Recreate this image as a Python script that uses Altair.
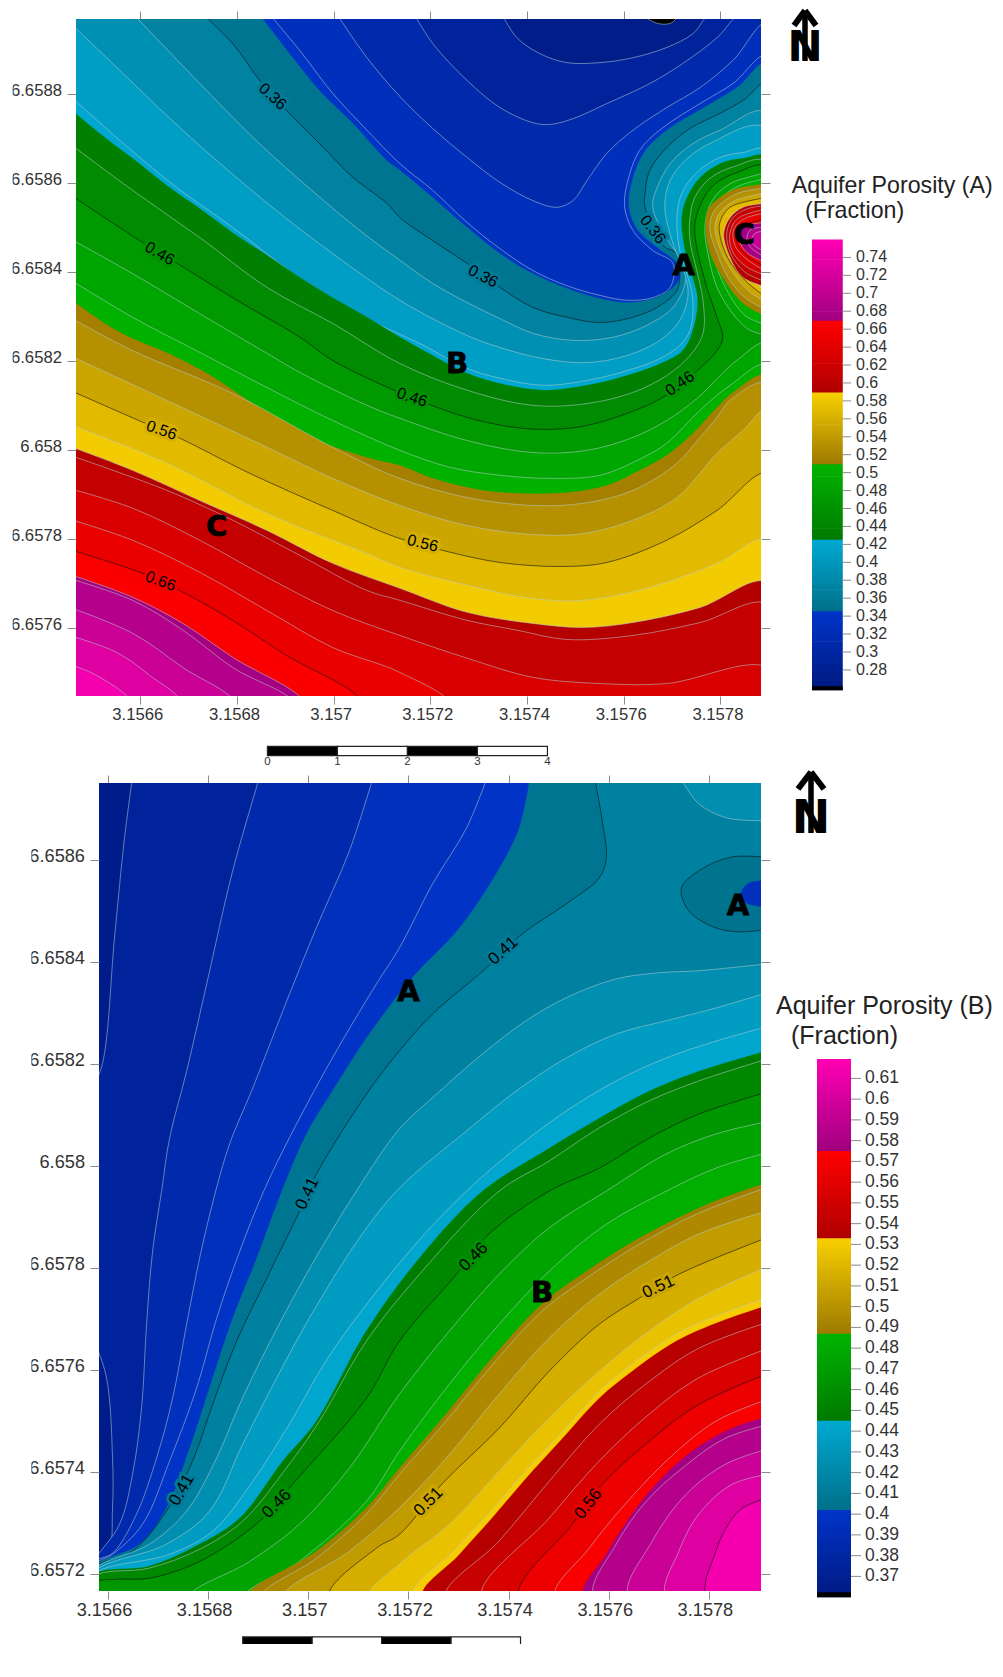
import altair as alt
import pandas as pd

# Contours, as (lon, lat) offsets in micro-degrees
# from the origin of each map.  Map A origin: 3.1566 E, 6.6576 N.
LON0, A_LAT0, B_LAT0 = 3.1566, 6.6576, 6.6572

a_026 = [(1033,1384),(1064,1361),(1096,1359),(1126,1384)]
a_028 = [(746,1384),(779,1327),(827,1291),(882,1271),(951,1271),(1019,1282),(1089,1305),(1143,1336),(1182,1384)]
a_030 = [(564,1384),(605,1314),(676,1231),(744,1170),(812,1136),(847,1132),(895,1145),(965,1179),(1054,1224),(1122,1269),(1193,1327),(1242,1384)]
a_032 = [(404,1384),(469,1282),(537,1195),(605,1123),(676,1058),(744,1002),(812,961),(862,946),(895,961),(924,1006),(965,1067),(1019,1119),(1089,1170),(1158,1215),(1226,1276),(1298,1361)]
a_034 = [(264,1384),(330,1298),(398,1202),(469,1119),(537,1044),(605,984),(676,912),(744,853),(812,804),(882,770),(951,748),(1007,737),(1060,743),(1096,766),(1102,820),(1060,849),(1019,894),(1002,946),(1007,999),(1033,1074),(1081,1125),(1158,1179),(1226,1224),(1298,1287)]
a_0345 = [(243,1384),(309,1291),(371,1208),(440,1134),(510,1051),(537,1029),(605,968),(676,901),(744,842),(812,797),(882,764),(951,741),(1007,732),(1060,741),(1102,766),(1116,788),(1110,820),(1069,856),(1027,898),(1011,946),(1015,995),(1042,1069),(1089,1119),(1166,1170),(1234,1215),(1298,1271)]
a_036 = [(125,1384),(191,1314),(247,1231),(303,1163),(371,1089),(440,1013),(510,955),(537,923),(605,871),(676,820),(744,766),(812,721),(882,699),(951,687),(1019,699),(1075,725),(1110,759),(1116,797),(1110,842),(1081,860),(1044,946),(1044,977),(1054,1029),(1089,1080),(1137,1123),(1199,1157),(1247,1186),(1298,1226)]
a_038 = [(-18,1384),(117,1231),(233,1103),(324,1013),(454,894),(537,827),(605,775),(676,732),(744,696),(812,663),(895,647),(978,654),(1048,681),(1102,721),(1127,775),(1127,811),(1089,876),(1060,946),(1069,990),(1096,1044),(1143,1089),(1199,1119),(1298,1159)]
a_040 = [(-146,1361),(-57,1269),(55,1152),(158,1051),(289,932),(398,842),(537,737),(676,658),(744,631),(833,606),(924,597),(1007,613),(1075,647),(1116,692),(1133,748),(1127,793),(1100,871),(1085,950),(1096,1006),(1127,1051),(1178,1089),(1298,1123)]
a_042 = [(-146,1197),(-42,1096),(76,990),(191,901),(316,797),(433,714),(578,640),(676,584),(744,562),(833,546),(924,557),(1007,579),(1075,606),(1116,636),(1137,669),(1143,737),(1133,788),(1116,849),(1110,923),(1120,977),(1151,1024),(1199,1058),(1247,1069),(1298,1074)]
a_0425 = [(-146,1168),(-84,1112),(-16,1056),(55,995),(123,943),(191,889),(262,838),(330,788),(398,743),(469,699),(537,654),(605,613),(676,573),(744,550),(833,535),(924,546),(1007,568),(1081,597),(1122,624),(1143,669),(1153,737),(1143,788),(1127,849),(1120,923),(1131,968),(1158,1013),(1199,1044),(1247,1056),(1298,1058)]
a_044 = [(-146,1089),(-16,984),(123,878),(262,766),(398,685),(537,595),(676,535),(812,501),(924,505),(1019,530),(1089,568),(1137,613),(1164,663),(1164,737),(1151,804),(1137,871),(1137,923),(1147,968),(1178,1011),(1230,1038),(1298,1047)]
a_046 = [(-146,975),(-1,871),(76,820),(191,743),(330,654),(398,602),(502,546),(593,505),(676,474),(758,454),(833,447),(916,454),(1007,483),(1081,519),(1152,579),(1193,624),(1205,654),(1193,699),(1172,766),(1151,856),(1147,905),(1158,950),(1185,995),(1234,1024),(1298,1035)]
a_048 = [(-146,876),(-16,797),(123,707),(262,618),(330,575),(469,501),(537,472),(676,422),(812,395),(924,400),(1019,429),(1089,467),(1152,517),(1234,602),(1298,640)]
a_048b = [(1298,658),(1255,674),(1199,752),(1175,838),(1168,905),(1183,961),(1220,999),(1298,1024)]
a_050 = [(-146,784),(-16,699),(123,620),(262,541),(398,467),(537,400),(640,362),(744,344),(847,337),(951,344),(1040,384),(1089,416),(1158,490),(1220,546),(1298,591)]
a_050b = [(1298,681),(1251,703),(1203,782),(1182,860),(1182,916),(1203,968),(1240,995),(1298,1011)]
a_051 = [(-146,741),(-49,669),(71,611),(138,573),(233,505),(330,438),(469,384),(537,366),(605,337),(708,310),(799,303),(882,305),(965,321),(1033,355),(1089,389),(1143,438),(1193,496),(1226,530),(1298,568)]
a_051b = [(1298,699),(1247,730),(1213,775),(1182,833),(1170,894),(1174,939),(1199,968),(1234,988),(1298,999)]
a_052 = [(-146,699),(-16,624),(191,528),(398,407),(537,337),(676,294),(812,276),(916,281),(1019,310),(1110,371),(1158,429),(1193,474),(1220,512),(1298,550)]
a_052b = [(1298,714),(1251,743),(1216,788),(1191,849),(1178,898),(1185,934),(1209,961),(1240,979),(1298,990)]
a_054 = [(-146,613),(55,512),(262,407),(398,337),(537,276),(676,231),(812,211),(916,213),(1019,243),(1110,294),(1193,393),(1247,445),(1298,494)]
a_054b = [(1298,730),(1257,759),(1220,809),(1195,865),(1189,905),(1199,934),(1230,961),(1298,979)]
a_056 = [(-146,535),(5,463),(82,427),(227,348),(398,265),(531,204),(626,175),(744,148),(868,139),(965,148),(1089,198),(1193,265),(1298,348)]
a_056b = [(1298,741),(1251,782),(1216,831),(1199,883),(1199,912),(1220,946),(1298,968)]
a_058 = [(-146,458),(55,371),(262,258),(469,168),(537,137),(676,97),(812,67),(916,63),(1054,92),(1193,146),(1298,198)]
a_058b = [(1298,752),(1257,793),(1226,849),(1213,894),(1226,932),(1298,957)]
a_059 = [(-146,409),(-16,355),(123,287),(262,220),(398,146),(537,90),(676,36),(812,11),(916,2),(1019,13),(1158,47),(1298,103)]
a_059b = [(1298,766),(1247,788),(1220,833),(1207,887),(1220,923),(1247,946),(1298,955)]
a_060 = [(-146,389),(55,310),(191,243),(330,164),(469,85),(537,63),(676,18),(779,-4),(882,-25),(1019,-16),(1158,13),(1298,54)]
a_060b = [(1298,777),(1251,800),(1222,840),(1213,887),(1226,923),(1257,943),(1298,950)]
a_062 = [(-146,314),(-16,270),(123,198),(262,115),(398,40),(537,-16),(676,-67),(812,-110),(951,-124),(1089,-124),(1298,-88)]
a_062b = [(1298,791),(1253,813),(1224,849),(1220,889),(1236,921),(1298,943)]
a_064 = [(-146,245),(-16,198),(123,126),(262,40),(398,-43),(537,-99),(634,-166)]
a_064b = [(1298,800),(1257,827),(1230,860),(1228,898),(1251,921),(1298,934)]
a_066 = [(-146,177),(-1,126),(82,85),(191,18),(295,-56),(454,-166)]
a_066b = [(1298,809),(1257,836),(1234,867),(1238,898),(1298,921)]
a_067 = [(-146,121),(-16,70),(88,11),(191,-65),(334,-166)]
a_067b = [(1298,820),(1255,844),(1240,871),(1247,901),(1298,912)]
a_068 = [(-146,112),(-16,63),(88,-4),(191,-88),(313,-166)]
a_068b = [(1298,831),(1265,853),(1255,871),(1261,894),(1298,903)]
a_070 = [(-146,47),(-16,-11),(88,-88),(191,-166)]
a_070b = [(1298,842),(1271,860),(1265,871),(1271,887),(1298,894)]
a_072 = [(-146,-16),(-49,-54),(20,-106),(82,-166)]
a_074 = [(-146,-81),(-90,-106),(-22,-166)]

A_LEVELS = [0.26,0.28,0.30,0.32,0.34,0.345,0.36,0.38,0.40,0.42,0.425,0.44,0.46,0.48,0.50,0.51,0.52,0.54,0.56,0.58,0.59,0.60,0.62,0.64,0.66,0.67,0.68,0.70,0.72,0.74,0.76]
A_FAMILY_EDGES = [0.26,0.345,0.425,0.51,0.59,0.67,0.76]
A_MAJOR = [0.36,0.46,0.56,0.66]
A_CURVES = [
 (0.26,a_026,"top"),(0.28,a_028,"top"),(0.30,a_030,"top"),(0.32,a_032,"right"),(0.34,a_034,"right"),(0.345,a_0345,"right"),
 (0.36,a_036,"right"),(0.38,a_038,"right"),(0.40,a_040,"right"),(0.42,a_042,"right"),(0.425,a_0425,"right"),(0.44,a_044,"right"),
 (0.46,a_046,"right"),(0.48,a_048,"right"),(0.48,a_048b,"bump"),(0.50,a_050,"right"),(0.50,a_050b,"bump"),(0.51,a_051,"right"),(0.51,a_051b,"bump"),
 (0.52,a_052,"right"),(0.52,a_052b,"bump"),(0.54,a_054,"right"),(0.54,a_054b,"bump"),(0.56,a_056,"right"),(0.56,a_056b,"bump"),
 (0.58,a_058,"right"),(0.58,a_058b,"bump"),(0.59,a_059,"right"),(0.59,a_059b,"bump"),(0.60,a_060,"right"),(0.60,a_060b,"bump"),
 (0.62,a_062,"right"),(0.62,a_062b,"bump"),(0.64,a_064,"bottom"),(0.64,a_064b,"bump"),(0.66,a_066,"bottom"),(0.66,a_066b,"bump"),
 (0.67,a_067,"bottom"),(0.67,a_067b,"bump"),(0.68,a_068,"bottom"),(0.68,a_068b,"bump"),(0.70,a_070,"bottom"),(0.70,a_070b,"bump"),
 (0.72,a_072,"bottom"),(0.74,a_074,"bottom"),
]

# Map B origin: 3.1566 E, 6.6572 N.
b_037 = [(49,1564),(33,1444),(13,1248),(-11,1001),(-37,934),(-66,732),(-37,491),(-3,385),(9,228),(9,130),(-1,32),(-33,14)]
b_038 = [(303,1564),(249,1379),(197,1157),(157,986),(123,855),(107,751),(89,633),(77,490),(67,326),(49,196),(23,98),(-33,18)]
b_039 = [(530,1564),(482,1418),(416,1267),(357,1124),(289,953),(243,844),(215,751),(183,620),(157,490),(129,345),(97,228),(57,118),(9,41),(-33,22)]
b_040 = [(758,1564),(716,1463),(648,1353),(582,1228),(536,1157),(448,1012),(362,855),(311,751),(263,633),(217,502),(177,365),(123,222),(69,98),(9,39),(-33,16)]
b_0402 = [(843,1564),(821,1463),(775,1373),(702,1267),(602,1163),(516,1051),(448,947),(396,863),(347,751),(297,620),(249,502),(209,385),(163,247),(117,130),(63,59),(-33,12)]
b_041 = [(971,1564),(987,1477),(995,1404),(981,1365),(915,1314),(827,1255),(755,1188),(648,1098),(582,1026),(516,941),(416,784),(376,698),(317,580),(257,457),(209,333),(169,222),(117,124),(49,45),(-33,10)]
b_041p = [(1330,1404),(1246,1406),(1180,1379),(1145,1345),(1160,1300),(1214,1267),(1266,1259),(1330,1267)]
b_040p = [(1330,1361),(1280,1355),(1264,1335),(1274,1316),(1330,1306)]
b_042 = [(1330,1198),(1180,1183),(1101,1179),(1015,1167),(915,1130),(835,1085),(748,1020),(648,934),(582,873),(496,751),(396,588),(317,443),(263,333),(217,228),(157,124),(83,59),(-33,6)]
b_042c = [(1131,1564),(1147,1552),(1180,1510),(1234,1483),(1304,1477),(1330,1477)]
b_043 = [(1330,1144),(1214,1110),(1115,1085),(1015,1059),(915,1012),(815,947),(716,869),(582,757),(502,659),(402,502),(337,385),(269,255),(203,124),(117,59),(-33,2)]
b_044 = [(1330,1077),(1214,1045),(1115,1012),(1015,967),(915,908),(815,835),(716,751),(602,633),(448,437),(362,294),(289,182),(209,84),(123,39),(-33,-2)]
b_0445 = [(1330,1030),(1180,986),(1081,947),(981,894),(881,835),(748,751),(622,620),(516,477),(416,300),(349,222),(263,110),(183,59),(83,16),(-33,-2)]
b_045 = [(1330,1014),(1180,967),(1081,928),(981,875),(881,810),(781,751),(622,588),(516,457),(422,300),(356,208),(269,104),(183,49),(83,12),(-33,-6)]
b_046 = [(1330,949),(1180,902),(1081,855),(981,796),(881,751),(761,667),(696,588),(582,457),(516,345),(368,176),(303,104),(183,25),(83,-8),(17,-10),(-33,-18)]
b_047 = [(1330,890),(1214,863),(1115,824),(995,751),(881,679),(781,588),(682,477),(582,353),(482,208),(382,98),(283,25),(163,-45)]
b_048 = [(1330,830),(1214,796),(1115,751),(995,686),(881,594),(781,490),(682,373),(582,241),(516,143),(382,25),(273,-45)]
b_0487 = [(1330,771),(1266,751),(1180,718),(1061,659),(955,594),(867,530),(767,424),(668,306),(582,208),(516,130),(416,45),(279,-45)]
b_049 = [(1330,763),(1180,708),(1061,647),(955,580),(867,516),(767,410),(668,292),(582,196),(516,118),(416,31),(307,-45)]
b_050 = [(1330,716),(1180,667),(1081,614),(981,549),(881,463),(781,353),(682,235),(582,130),(482,45),(352,-45)]
b_051 = [(1330,665),(1140,588),(1061,541),(981,490),(881,398),(781,286),(668,178),(582,78),(536,51),(442,-45)]
b_052 = [(1330,608),(1180,541),(1081,477),(981,398),(881,306),(781,202),(682,98),(582,20),(522,-45)]
b_053 = [(1330,547),(1214,506),(1135,471),(1047,412),(981,359),(901,272),(835,204),(767,126),(696,51),(608,-45)]
b_0533 = [(1330,531),(1214,492),(1135,457),(1047,398),(981,345),(901,259),(835,188),(767,110),(702,39),(628,-45)]
b_054 = [(1330,498),(1180,443),(1081,378),(981,294),(881,182),(781,65),(675,-45)]
b_055 = [(1330,447),(1180,385),(1081,314),(981,222),(881,110),(747,-45)]
b_056 = [(1330,398),(1180,333),(1081,261),(987,176),(927,98),(821,-45)]
b_057 = [(1330,347),(1214,300),(1115,222),(1021,124),(961,51),(893,-45)]
b_0575 = [(1330,312),(1246,286),(1166,241),(1087,169),(1027,90),(995,39),(949,-45)]
b_058 = [(1330,296),(1234,267),(1147,208),(1075,143),(1015,59),(971,-45)]
b_059 = [(1330,249),(1234,216),(1155,157),(1087,65),(1040,-45)]
b_060 = [(1330,198),(1246,176),(1180,118),(1140,45),(1115,-45)]
b_061 = [(1330,153),(1266,129),(1234,90),(1214,45),(1196,-45)]

B_LEVELS = [0.37,0.38,0.39,0.40,0.402,0.41,0.42,0.43,0.44,0.445,0.45,0.46,0.47,0.48,0.487,0.49,0.50,0.51,0.52,0.53,0.533,0.54,0.55,0.56,0.57,0.575,0.58,0.59,0.60,0.61,0.62]
B_FAMILY_EDGES = [0.36,0.402,0.445,0.487,0.533,0.575,0.62]
B_MAJOR = [0.41,0.46,0.51,0.56,0.61]
B_CURVES = [
 (0.37,b_037,"left"),(0.38,b_038,"left"),(0.39,b_039,"left"),(0.40,b_040,"left"),(0.402,b_0402,"left"),(0.41,b_041,"left"),
 (0.405,b_041p,"bump"),(0.395,b_040p,"bump"),
 (0.42,b_042,"left"),(0.42,b_042c,"corner"),(0.43,b_043,"left"),(0.44,b_044,"left"),(0.445,b_0445,"left"),(0.45,b_045,"left"),(0.46,b_046,"left"),
 (0.47,b_047,"bottom"),(0.48,b_048,"bottom"),(0.487,b_0487,"bottom"),(0.49,b_049,"bottom"),(0.50,b_050,"bottom"),(0.51,b_051,"bottom"),
 (0.52,b_052,"bottom"),(0.53,b_053,"bottom"),(0.533,b_0533,"bottom"),(0.54,b_054,"bottom"),(0.55,b_055,"bottom"),(0.56,b_056,"bottom"),
 (0.57,b_057,"bottom"),(0.575,b_0575,"bottom"),(0.58,b_058,"bottom"),(0.59,b_059,"bottom"),(0.60,b_060,"bottom"),(0.61,b_061,"bottom"),
]

# Contour annotations: text, lon offset, lat offset, angle
a_labels = [("0.36",274,1195,42),("0.46",40,842,30),("0.36",1060,896,52),("0.36",709,791,28),("0.46",562,519,18),
            ("0.46",1116,550,325),("0.56",44,445,19),("0.56",584,191,14),("0.66",42,106,20)]
b_labels = [("0.41",789,1222,318),("0.41",398,746,295),("0.41",147,165,300),("0.46",337,138,315),("0.46",730,622,315),
            ("0.51",1099,563,335),("0.51",640,142,315),("0.56",959,138,308)]
a_letters = [("A",1124,815),("C",1249,883),("B",655,595),("C",158,227)]
b_letters = [("A",600,1142),("A",1258,1309),("B",867,552)]

x_ticks = [3.1566,3.1568,3.157,3.1572,3.1574,3.1576,3.1578]
a_y_ticks = [6.6576,6.6578,6.658,6.6582,6.6584,6.6586,6.6588]
b_y_ticks = [6.6572,6.6574,6.6576,6.6578,6.658,6.6582,6.6584,6.6586]
legend_a = [0.74,0.72,0.70,0.68,0.66,0.64,0.62,0.60,0.58,0.56,0.54,0.52,0.50,0.48,0.46,0.44,0.42,0.40,0.38,0.36,0.34,0.32,0.30,0.28]
legend_b = [0.61,0.60,0.59,0.58,0.57,0.56,0.55,0.54,0.53,0.52,0.51,0.50,0.49,0.48,0.47,0.46,0.45,0.44,0.43,0.42,0.41,0.40,0.39,0.38,0.37]
bar_ticks = [0,1,2,3,4]

RAMPS = [("#001a82","#0034c8"),("#00708a","#00a9d2"),("#007a00","#00b400"),("#9e7a00","#f8d000"),("#b00000","#ff0000"),("#a0007f","#ff00b4")]
FONT = "Liberation Sans"


def ramp(v, edges):
    for k in range(6):
        if v <= edges[k + 1] or k == 5:
            t = max(0.0, min(1.0, (v - edges[k]) / (edges[k + 1] - edges[k])))
            lo, hi = RAMPS[k]
            c = [round(int(lo[j:j+2], 16) + t * (int(hi[j:j+2], 16) - int(lo[j:j+2], 16))) for j in (1, 3, 5)]
            return "#%02x%02x%02x" % tuple(c)


def band_colour(level, levels, edges):
    above = [l for l in levels if l > level]
    top = above[0] if above else level + 0.01
    return ramp((level + top) / 2, edges)


def make_map(curves, levels, edges, major, lat0, dom_x, dom_y, corners, base, labels, letters, yticks,
             w, h, shift, gutter, font, label_font, offs, bar, bar_font, mask):
    xs = alt.Scale(domain=[LON0 + dom_x[0]*1e-6, LON0 + dom_x[1]*1e-6], range=[shift, w], nice=False, zero=False)
    ys = alt.Scale(domain=[lat0 + dom_y[0]*1e-6, lat0 + dom_y[1]*1e-6], nice=False, zero=False)
    X = alt.X("lon:Q", scale=xs, axis=None)
    Y = alt.Y("lat:Q", scale=ys, axis=None)

    def frame(points):
        return pd.DataFrame({"i": range(len(points)),
                             "lon": [LON0 + p[0]*1e-6 for p in points],
                             "lat": [lat0 + p[1]*1e-6 for p in points]})

    layers = []
    ends = frame([(dom_x[0], dom_y[0]), (dom_x[1], dom_y[1])])
    axis_base = alt.Axis(values=x_ticks, format=".4~f", labelFont=FONT, labelFontSize=font, labelColor="#333333", tickColor="#8a8a8a",
                         tickSize=8, domain=False, grid=False, labelPadding=2, labelOffset=offs, labelOverlap=False, labelFlush=False, title=None)
    axis_left = alt.Axis(values=yticks, labels=False, tickColor="#8a8a8a", tickSize=9, domain=False, grid=False, title=None, offset=-shift, zindex=1)
    layers.append(alt.Chart(ends).mark_point(opacity=0).encode(
        x=alt.X("lon:Q", scale=xs, axis=axis_base), y=alt.Y("lat:Q", scale=ys, axis=axis_left)))
    layers.append(alt.Chart(ends).mark_point(opacity=0).encode(
        x=alt.X("lon:Q", scale=xs, axis=alt.Axis(orient="top", values=x_ticks, labels=False, tickColor="#8a8a8a", tickSize=8, domain=False, grid=False, title=None)),
        y=alt.Y("lat:Q", scale=ys, axis=alt.Axis(orient="right", values=yticks, labels=False, tickColor="#8a8a8a", tickSize=9, domain=False, grid=False, title=None))))

    TR, BR, BL, TL = corners
    closes = {"top": [TR, BR, BL, TL], "right": [BR, BL, TL], "bottom": [BL, TL], "bump": [],
              "left": [BL, BR, TR], "corner": [TR]}
    if lat0 == B_LAT0:
        closes["bottom"] = [BR, TR]

    poly = lambda pts, fill, stroke, sw: alt.Chart(frame(pts)).mark_line(
        clip=True, interpolate="catmull-rom", fill=fill, stroke=stroke, strokeWidth=sw).encode(x=X, y=Y, order="i:Q")

    layers.append(poly([TR, BR, BL, TL], base, base, 0.2))
    for level, curve, end in curves:
        pts = list(curve) + closes[end]
        fill = band_colour(level, levels, edges)
        if level in major:
            stroke, sw = "#101010", 0.6
        elif round(level * 1000) % 10 == 0 and level not in (0.51,):
            stroke, sw = "#b8ccd2", 0.55
        else:
            stroke, sw = fill, 0.2
        if end == "bump" and lat0 == B_LAT0:
            fill = ramp(level, edges)
            stroke, sw = ("#101010", 0.6) if level > 0.40 else (fill, 0.2)
        layers.append(poly(pts, fill, stroke, sw))

    if gutter is not None:
        # Keeps the panel strip to the left of a narrower map clear of its fills
        g = frame([(gutter, dom_y[1] + 10)])
        g["lon2"] = LON0 + dom_x[0]*1e-6
        g["lat2"] = lat0 + (dom_y[0] - 10)*1e-6
        layers.append(alt.Chart(g).mark_rect(fill="#ffffff").encode(x=X, x2="lon2:Q", y=Y, y2="lat2:Q"))

    # Left tick labels are text marks so that they sit above that strip
    yl = pd.DataFrame({"lat": yticks})
    layers.append(alt.Chart(yl).mark_text(font=FONT, fontSize=font, align="right", baseline="middle", color="#333333", dy=-3).encode(
        x=alt.value(shift - 14), y=Y, text=alt.Text("lat:Q", format=".4~f")))

    lab = pd.DataFrame([{"t": t, "lon": LON0 + a*1e-6, "lat": lat0 + b*1e-6, "angle": ang,
                         "halo": ramp(float(t), edges)} for t, a, b, ang in labels])
    layers.append(alt.Chart(lab).mark_text(font=FONT, fontSize=label_font, strokeWidth=6).encode(
        x=X, y=Y, text="t:N", angle=alt.Angle("angle:Q", scale=None), stroke=alt.Stroke("halo:N", scale=None), fill=alt.Fill("halo:N", scale=None)))
    layers.append(alt.Chart(lab).mark_text(font=FONT, fontSize=label_font, color="#000000").encode(
        x=X, y=Y, text="t:N", angle=alt.Angle("angle:Q", scale=None)))
    let = pd.DataFrame([{"t": t, "lon": LON0 + a*1e-6, "lat": lat0 + b*1e-6} for t, a, b in letters])
    layers.append(alt.Chart(let).mark_text(font="DejaVu Sans", fontWeight="bold", fontSize=29, color="#000000", stroke="#000000", strokeWidth=0.8).encode(x=X, y=Y, text="t:N"))

    # Scale bar 0-4, placed under the map in map units
    start, unit, y0, y1, yt = bar
    seg = pd.DataFrame({"lon": [LON0 + (start + unit*t)*1e-6 for t in bar_ticks[:-1]],
                        "lon2": [LON0 + (start + unit*(t+1))*1e-6 for t in bar_ticks[:-1]],
                        "lat": lat0 + y0*1e-6, "lat2": lat0 + y1*1e-6,
                        "c": ["#000000", "#ffffff", "#000000", "#ffffff"]})
    layers.append(alt.Chart(seg).mark_rect(stroke="#222222", strokeWidth=1.2).encode(x=X, x2="lon2:Q", y=Y, y2="lat2:Q", fill=alt.Fill("c:N", scale=None)))
    tk = pd.DataFrame({"lon": [LON0 + (start + unit*t)*1e-6 for t in bar_ticks], "lat": lat0 + yt*1e-6, "t": [str(t) for t in bar_ticks]})
    layers.append(alt.Chart(tk).mark_text(font=FONT, fontSize=bar_font, color="#333333").encode(x=X, y=Y, text="t:N"))

    # The source image is cropped through the first digit of the left labels
    mk = frame([(mask[0], dom_y[1])])
    mk["lon2"] = LON0 + mask[1]*1e-6
    mk["lat2"] = lat0 + dom_y[0]*1e-6
    layers.append(alt.Chart(mk).mark_rect(fill="#ffffff").encode(x=X, x2="lon2:Q", y=Y, y2="lat2:Q"))

    return alt.layer(*layers).resolve_axis(x="independent", y="independent").properties(width=w, height=h)


def make_legend(values, edges, bar_top, bar_bottom, domain, w, h, xs, title, tpos, tfont, font, north):
    bx0, bx1, tx1, lx = xs
    ys = alt.Scale(domain=domain, nice=False, zero=False)
    step = 0.002 if edges[-1] > 0.7 else 0.001
    n = int(round((bar_top - bar_bottom) / step))
    cells = pd.DataFrame({"v": [bar_bottom + k*step for k in range(n)]})
    cells["v2"] = cells["v"] + step*1.4
    cells["c"] = [ramp(v + step/2, edges) for v in cells["v"]]
    Y = alt.Y("v:Q", scale=ys, axis=None)
    bar = alt.Chart(cells).mark_rect().encode(x=alt.value(bx0), x2=alt.value(bx1), y=Y, y2="v2:Q", fill=alt.Fill("c:N", scale=None))
    black = alt.Chart(pd.DataFrame({"v": [bar_bottom], "v2": [bar_bottom + (bar_top-bar_bottom)*0.009]})).mark_rect(fill="#000000").encode(
        x=alt.value(bx0), x2=alt.value(bx1), y=Y, y2="v2:Q")
    vals = pd.DataFrame({"v": values})
    ticks = alt.Chart(vals).mark_rule(color="#8a8a8a", strokeWidth=1).encode(x=alt.value(bx1), x2=alt.value(tx1), y=Y)
    labs = alt.Chart(vals).mark_text(font=FONT, fontSize=font, align="left", baseline="middle", color="#333333").encode(
        x=alt.value(lx), y=Y, text=alt.Text("v:Q", format=".2~f"))
    t1 = alt.Chart(pd.DataFrame({"t": [title]})).mark_text(font=FONT, fontSize=tfont, align="left", baseline="alphabetic", color="#222222").encode(
        x=alt.value(tpos[0]), y=alt.value(tpos[1]), text="t:N")
    t2 = alt.Chart(pd.DataFrame({"t": ["(Fraction)"]})).mark_text(font=FONT, fontSize=tfont, align="left", baseline="alphabetic", color="#222222").encode(
        x=alt.value(tpos[2]), y=alt.value(tpos[3]), text="t:N")
    cx, tip, by, hw, sz, sh = north
    one = pd.DataFrame({"t": ["N"]})
    n_t = alt.Chart(one).mark_text(font="DejaVu Sans", fontWeight="bold", fontSize=sz, baseline="alphabetic", color="#000000").encode(
        x=alt.value(cx), y=alt.value(by), text="t:N")
    shaft = alt.Chart(one).mark_rule(color="#000000", strokeWidth=5.5).encode(x=alt.value(cx), y=alt.value(tip + 6), y2=alt.value(by))
    b1 = alt.Chart(one).mark_rule(color="#000000", strokeWidth=6).encode(x=alt.value(cx), x2=alt.value(cx - hw), y=alt.value(tip + 2), y2=alt.value(tip + sh))
    b2 = alt.Chart(one).mark_rule(color="#000000", strokeWidth=6).encode(x=alt.value(cx), x2=alt.value(cx + hw), y=alt.value(tip + 2), y2=alt.value(tip + sh))
    return alt.layer(bar, black, ticks, labs, t1, t2, n_t, shaft, b1, b2).properties(width=w, height=h)


map_a = make_map(A_CURVES, A_LEVELS, A_FAMILY_EDGES, A_MAJOR, A_LAT0, (-133, 1284), (-152, 1369),
                 ((1340,1430),(1340,-210),(-190,-210),(-190,1430)), "#000000", a_labels, a_letters, a_y_ticks,
                 685, 677, 0, None, 16.7, 16, -3, (263, 144.8, -265, -286, -301), 11.5, (-274, -264))
leg_a = make_legend(legend_a, A_FAMILY_EDGES, 0.76007, 0.2573, [0.25092, 1.00589], 232, 677, (51, 81.7, 90, 95),
                    "Aquifer Porosity (A)", (30.7, 173.5, 44, 198.5), 23.2, 16, (44, -10.5, 42, 11, 42, 17))
map_b = make_map(B_CURVES, B_LEVELS, B_FAMILY_EDGES, B_MAJOR, B_LAT0, (-18, 1304), (-33, 1551),
                 ((1360,1610),(1360,-80),(-70,-80),(-70,1610)), "#001c8a", b_labels, b_letters, b_y_ticks,
                 685, 808, 23, -70, 18.2, 17, -4, (269, 138.7, -123, -140, -151), 10.5, (-164, -153))
leg_b = make_legend(legend_b, B_FAMILY_EDGES, 0.61901, 0.35998, [0.36296, 0.75236], 232, 808, (56, 90, 100, 104),
                    "Aquifer Porosity (B)", (15, 230.7, 30, 260.7), 25, 17.5, (50, -13, 50, 13, 46, 19))

chart = alt.concat(
    map_a, leg_a, map_b, leg_b,
    columns=2, spacing={"row": 87, "column": 0}, bounds="flush", align="each",
).properties(padding={"left": -1, "right": 0, "top": -1, "bottom": -13}).configure_view(stroke=None)

chart.save("out.html", embed_options={"renderer": "svg", "actions": False})
